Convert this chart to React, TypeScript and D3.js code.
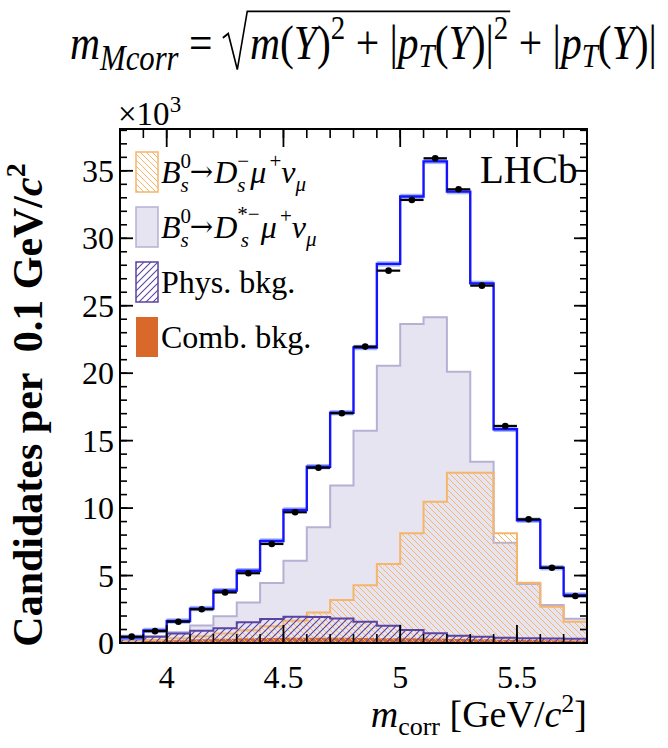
import React, { useLayoutEffect, useRef, useState } from "react";
import * as d3 from "d3";

// ---------- data (values in units of 10^3 candidates per bin) ----------
const binEdges = [3.8, 3.9, 4.0, 4.1, 4.2, 4.3, 4.4, 4.5, 4.6, 4.7, 4.8, 4.9, 5.0, 5.1, 5.2, 5.3, 5.4, 5.5, 5.6, 5.7, 5.8];
const dataCounts = [0.47, 0.88, 1.58, 2.5, 3.75, 5.17, 7.34, 9.69, 12.99, 17.03, 21.97, 27.6, 32.84, 35.93, 33.63, 26.49, 16.09, 9.17, 5.58, 3.48];
const fitTotal = [0.42, 0.93, 1.63, 2.55, 3.88, 5.36, 7.56, 9.86, 13.07, 17.07, 21.9, 28.1, 33.1, 35.7, 33.46, 26.66, 15.84, 9.1, 5.58, 3.56];
const dsStarSignal = [0.3, 0.5, 0.8, 1.3, 1.98, 3.0, 4.45, 6.1, 8.58, 11.68, 15.73, 20.56, 23.65, 24.14, 20.11, 13.44, 7.44, 4.38, 2.82, 1.8];
const dsSignal = [0.12, 0.22, 0.35, 0.5, 0.7, 0.95, 1.25, 1.65, 2.27, 3.19, 4.28, 5.86, 8.13, 10.47, 12.62, 12.62, 8.13, 4.47, 2.69, 1.58];
const physBkg = [0.27, 0.47, 0.7, 0.9, 1.09, 1.53, 1.78, 1.95, 1.92, 1.82, 1.58, 1.28, 0.96, 0.72, 0.54, 0.47, 0.38, 0.35, 0.33, 0.32];
const combBkg = [0.1, 0.15, 0.2, 0.28, 0.32, 0.35, 0.37, 0.38, 0.38, 0.38, 0.37, 0.36, 0.35, 0.33, 0.3, 0.28, 0.25, 0.22, 0.2, 0.18];
const fitBand = 0.2;
const xTicks = [4, 4.5, 5, 5.5];
const xTickLabels = ["4", "4.5", "5", "5.5"];
const yTicks = [0, 5, 10, 15, 20, 25, 30, 35];
const yTickLabels = ["0", "5", "10", "15", "20", "25", "30", "35"];

// ---------- layout ----------
const W = 668, H = 748;
const L = 120, R = 587, T = 129, B = 643;
const FONT = "'Liberation Serif', 'Times New Roman', 'DejaVu Serif', serif";
const ARROW_FONT = "'DejaVu Serif', serif";

const x = d3.scaleLinear().domain([3.8, 5.8]).range([L, R]);
const y = d3.scaleLinear().domain([0, 38.1]).range([B, T]);

type P = [number, number];
function stepPoints(vals: number[]): P[] {
  const pts: P[] = [];
  vals.forEach((v, i) => {
    pts.push([binEdges[i], v]);
    pts.push([binEdges[i + 1], v]);
  });
  return pts;
}
const area = d3.area<P>().x((d) => x(d[0])).y0(y(0)).y1((d) => y(d[1]));
const line = d3.line<P>().x((d) => x(d[0])).y((d) => y(d[1]));
function outline(vals: number[]) {
  const pts = stepPoints(vals);
  return line([[binEdges[0], 0], ...pts, [binEdges[binEdges.length - 1], 0]]) || "";
}

function Formula() {
  const tRef = useRef<SVGTextElement>(null);
  const sRef = useRef<SVGTSpanElement>(null);
  const eRef = useRef<SVGTSpanElement>(null);
  const [geo, setGeo] = useState<{ x0: number; x1: number; s: number; tx: number } | null>(null);
  const base = 59;
  useLayoutEffect(() => {
    if (!tRef.current || !sRef.current || !eRef.current) return;
    const bb = tRef.current.getBBox();
    const sb = sRef.current.getBBox();
    const eb = eRef.current.getBBox();
    const left = Math.min(bb.x, sb.x - 30);
    const width = bb.x + bb.width - left;
    const s = (657 - 70) / width;
    setGeo({ x0: sb.x, x1: eb.x + eb.width, s, tx: 70 - left * s });
  }, []);
  const fs = 46, ss = 34;
  const it = { fontStyle: "italic" as const };
  return (
    <g transform={geo ? `translate(${geo.tx},${base}) scale(${geo.s},${geo.s * 1.17}) translate(0,${-base})` : undefined}>
      <text ref={tRef} x={0} y={base} fontFamily={FONT} fontSize={fs} fill="#000" style={{ whiteSpace: "pre" }}>
        <tspan {...it}>m</tspan>
        <tspan {...it} fontSize={ss} dy={10}>Mcorr</tspan>
        <tspan dy={-10}>{" = "}</tspan>
        <tspan ref={sRef} dx={30} {...it}>m</tspan>
        <tspan>(</tspan>
        <tspan {...it}>Y</tspan>
        <tspan>)</tspan>
        <tspan fontSize={ss - 2} dy={-19}>2</tspan>
        <tspan dy={19}>{" + |"}</tspan>
        <tspan {...it}>p</tspan>
        <tspan {...it} fontSize={ss - 2} dy={8}>T</tspan>
        <tspan dy={-8}>(</tspan>
        <tspan {...it}>Y</tspan>
        <tspan>)|</tspan>
        <tspan ref={eRef} fontSize={ss - 2} dy={-19}>2</tspan>
        <tspan dy={19}>{" + |"}</tspan>
        <tspan {...it}>p</tspan>
        <tspan {...it} fontSize={ss - 2} dy={8}>T</tspan>
        <tspan dy={-8}>(</tspan>
        <tspan {...it}>Y</tspan>
        <tspan>)|</tspan>
      </text>
      {geo && (
        <path
          d={`M${geo.x0 - 30},${base - 20} L${geo.x0 - 24},${base - 24} L${geo.x0 - 14},${base + 10} L${geo.x0 - 3},${base - 45} L${geo.x1 + 2},${base - 45}`}
          fill="none"
          stroke="#000"
          strokeWidth={1.8}
        />
      )}
    </g>
  );
}

export default function App() {
  const xMinor = d3.range(3.8, 5.8001, 0.1);
  const yMinor = d3.range(0, 38.1, 1);
  const orange = "#f5b56b";
  const lavFill = "#e6e4f0";
  const lavStroke = "#b6b0d4";
  const purple = "#5a43a3";
  const comb = "#d9692a";
  const blue = "#1414ff";

  return (
    <svg width={W} height={H} style={{ position: "absolute", left: 0, top: 0, background: "#fff" }}>
      <defs>
        <pattern id="hOrange" patternUnits="userSpaceOnUse" width={6} height={6}>
          <path d="M-1,5 L1,7 M0,0 L6,6 M5,-1 L7,1" stroke={orange} strokeWidth={1} />
        </pattern>
        <pattern id="hPurple" patternUnits="userSpaceOnUse" width={7} height={7}>
          <path d="M0,7 L7,0 M-1,1 L1,-1 M6,8 L8,6" stroke={purple} strokeWidth={1.1} />
        </pattern>
        <clipPath id="frame">
          <rect x={L} y={T} width={R - L} height={B - T} />
        </clipPath>
      </defs>
      <rect width={W} height={H} fill="#fff" />

      <Formula />

      <g clipPath="url(#frame)">
        {/* D_s* signal */}
        <path d={area(stepPoints(dsStarSignal)) || ""} fill={lavFill} />
        <path d={outline(dsStarSignal)} fill="none" stroke={lavStroke} strokeWidth={2} />
        {/* combinatorial */}
        <path d={area(stepPoints(combBkg)) || ""} fill={comb} />
        {/* D_s signal */}
        <path d={area(stepPoints(dsSignal)) || ""} fill="url(#hOrange)" />
        <path d={outline(dsSignal)} fill="none" stroke={orange} strokeWidth={2} />
        {/* physics bkg */}
        <path d={area(stepPoints(physBkg)) || ""} fill="url(#hPurple)" />
        <path d={outline(physBkg)} fill="none" stroke={purple} strokeWidth={2} />
        {/* fit band and line */}
        {fitTotal.map((v, i) => (
          <rect
            key={"b" + i}
            x={x(binEdges[i])}
            width={x(binEdges[i + 1]) - x(binEdges[i])}
            y={y(v + fitBand)}
            height={y(v - fitBand) - y(v + fitBand)}
            fill="#86a0ff"
            opacity={0.75}
          />
        ))}
        <path d={line(stepPoints(fitTotal)) || ""} fill="none" stroke={blue} strokeWidth={2.4} />
        {/* data */}
        {dataCounts.map((v, i) => (
          <g key={"d" + i}>
            <line x1={x(binEdges[i])} x2={x(binEdges[i + 1])} y1={y(v)} y2={y(v)} stroke="#000" strokeWidth={2.2} />
            <circle cx={x((binEdges[i] + binEdges[i + 1]) / 2)} cy={y(v)} r={3.3} fill="#000" />
          </g>
        ))}
      </g>

      {/* frame */}
      <rect x={L} y={T} width={R - L} height={B - T} fill="none" stroke="#000" strokeWidth={2} />
      {xMinor.map((t, i) => (
        <g key={"xm" + i}>
          <line x1={x(t)} x2={x(t)} y1={B} y2={B - 9} stroke="#000" strokeWidth={1.6} />
          <line x1={x(t)} x2={x(t)} y1={T} y2={T + 9} stroke="#000" strokeWidth={1.6} />
        </g>
      ))}
      {xTicks.map((t, i) => (
        <g key={"xM" + i}>
          <line x1={x(t)} x2={x(t)} y1={B} y2={B - 18} stroke="#000" strokeWidth={1.8} />
          <line x1={x(t)} x2={x(t)} y1={T} y2={T + 18} stroke="#000" strokeWidth={1.8} />
          <text x={x(t)} y={688} textAnchor="middle" fontFamily={FONT} fontSize={32}>
            {xTickLabels[i]}
          </text>
        </g>
      ))}
      {yMinor.map((t, i) => (
        <g key={"ym" + i}>
          <line x1={L} x2={L + 7} y1={y(t)} y2={y(t)} stroke="#000" strokeWidth={1.6} />
          <line x1={R} x2={R - 7} y1={y(t)} y2={y(t)} stroke="#000" strokeWidth={1.6} />
        </g>
      ))}
      {yTicks.map((t, i) => (
        <g key={"yM" + i}>
          <line x1={L} x2={L + 13} y1={y(t)} y2={y(t)} stroke="#000" strokeWidth={1.8} />
          <line x1={R} x2={R - 13} y1={y(t)} y2={y(t)} stroke="#000" strokeWidth={1.8} />
          <text x={114} y={y(t) + 11} textAnchor="end" fontFamily={FONT} fontSize={32}>
            {yTickLabels[i]}
          </text>
        </g>
      ))}

      {/* x10^3 */}
      <text x={118} y={125} fontFamily={FONT} fontSize={33}>
        <tspan>×10</tspan>
        <tspan fontSize={23} dy={-13}>3</tspan>
      </text>

      {/* axis titles */}
      <text x={587} y={727} textAnchor="end" fontFamily={FONT} fontSize={38} style={{ whiteSpace: "pre" }}>
        <tspan fontStyle="italic">m</tspan>
        <tspan fontSize={26} dy={8}>corr</tspan>
        <tspan dy={-8}>{" [GeV/"}</tspan>
        <tspan fontStyle="italic">c</tspan>
        <tspan fontSize={26} dy={-15}>2</tspan>
        <tspan dy={15}>]</tspan>
      </text>
      <text
        transform="translate(42,405) rotate(-90)"
        textAnchor="middle"
        fontFamily={FONT}
        fontSize={42}
        fontWeight="bold"
        style={{ whiteSpace: "pre" }}
      >
        <tspan>{"Candidates per  0.1 GeV/"}</tspan>
        <tspan fontStyle="italic">c</tspan>
        <tspan fontSize={28} dy={-17}>2</tspan>
      </text>

      {/* LHCb */}
      <text x={480} y={183} fontFamily={FONT} fontSize={39}>
        LHCb
      </text>

      {/* legend */}
      <g fontFamily={FONT} fontSize={32}>
        <rect x={136} y={152} width={22} height={40} fill="#fff" />
        <rect x={136} y={152} width={22} height={40} fill="url(#hOrange)" stroke={orange} strokeWidth={1.5} />
        <text x={161} y={183}>
          <tspan fontStyle="italic">B</tspan>
          <tspan fontSize={21} dy={-15}>0</tspan>
          <tspan fontSize={21} fontStyle="italic" dx={-10.5} dy={24}>s</tspan>
          <tspan fontFamily={ARROW_FONT} fontSize={28} dx={1} dy={-11}>→</tspan>
          <tspan fontStyle="italic" dx={1} dy={2}>D</tspan>
          <tspan fontSize={21} dy={-15}>−</tspan>
          <tspan fontSize={21} fontStyle="italic" dx={-12} dy={24}>s</tspan>
          <tspan fontStyle="italic" dx={5} dy={-9}>μ</tspan>
          <tspan fontSize={21} dx={3} dy={-15}>+</tspan>
          <tspan fontStyle="italic" dy={15}>ν</tspan>
          <tspan fontSize={21} fontStyle="italic" dy={8}>μ</tspan>
        </text>

        <rect x={136} y={207} width={22} height={40} fill={lavFill} stroke={lavStroke} strokeWidth={1.5} />
        <text x={161} y={238}>
          <tspan fontStyle="italic">B</tspan>
          <tspan fontSize={21} dy={-15}>0</tspan>
          <tspan fontSize={21} fontStyle="italic" dx={-10.5} dy={24}>s</tspan>
          <tspan fontFamily={ARROW_FONT} fontSize={28} dx={1} dy={-11}>→</tspan>
          <tspan fontStyle="italic" dx={1} dy={2}>D</tspan>
          <tspan fontSize={21} dy={-17}>*−</tspan>
          <tspan fontSize={21} fontStyle="italic" dx={-19} dy={26}>s</tspan>
          <tspan fontStyle="italic" dx={12} dy={-9}>μ</tspan>
          <tspan fontSize={21} dx={3} dy={-15}>+</tspan>
          <tspan fontStyle="italic" dy={15}>ν</tspan>
          <tspan fontSize={21} fontStyle="italic" dy={8}>μ</tspan>
        </text>

        <rect x={136} y={262} width={22} height={40} fill="#fff" />
        <rect x={136} y={262} width={22} height={40} fill="url(#hPurple)" stroke={purple} strokeWidth={1.5} />
        <text x={161} y={293}>Phys. bkg.</text>

        <rect x={136} y={317} width={22} height={40} fill={comb} />
        <text x={161} y={348}>Comb. bkg.</text>
      </g>
    </svg>
  );
}
